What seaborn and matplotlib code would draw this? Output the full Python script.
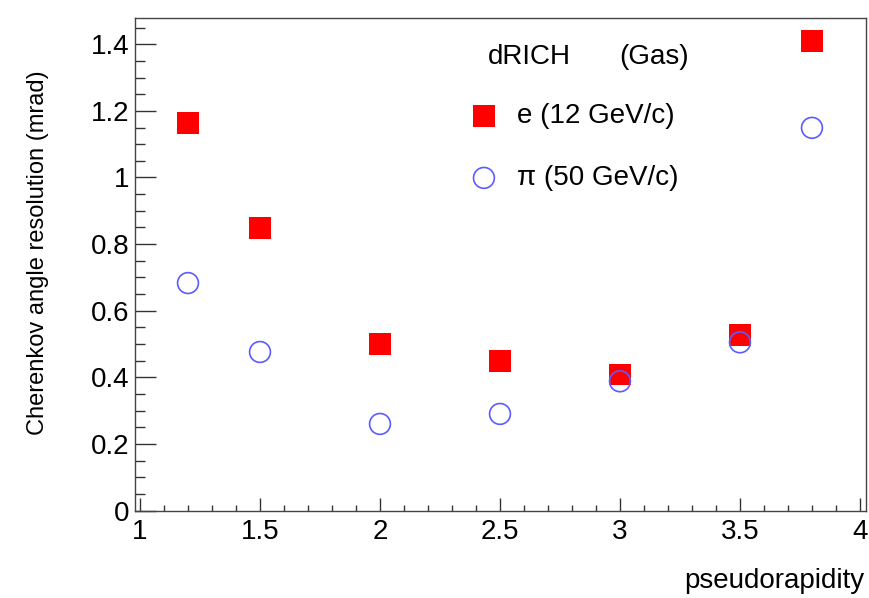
import numpy as np
import pandas as pd
import matplotlib
matplotlib.use('Agg')
import matplotlib.pyplot as plt
import seaborn as sns
from matplotlib.ticker import MultipleLocator

eta = [1.2, 1.5, 2.0, 2.5, 3.0, 3.5, 3.8]
res_e = [1.164, 0.848, 0.500, 0.449, 0.408, 0.527, 1.410]
res_pi = [0.683, 0.476, 0.260, 0.290, 0.388, 0.505, 1.149]
label_e = 'e (12 GeV/c)'
label_pi = 'π (50 GeV/c)'

df = pd.DataFrame({
    'eta': eta * 2,
    'res': res_e + res_pi,
    'particle': [label_e] * len(eta) + [label_pi] * len(eta),
})

sns.set_style('ticks')
plt.rcParams['font.family'] = ['Liberation Sans', 'DejaVu Sans']
plt.rcParams['text.color'] = 'black'
plt.rcParams['axes.labelcolor'] = 'black'
plt.rcParams['xtick.labelcolor'] = 'black'
plt.rcParams['ytick.labelcolor'] = 'black'

fig = plt.figure(figsize=(8.69, 5.98), dpi=100)
ax = fig.add_axes([0.1553, 0.1463, 0.8412, 0.8237])

sns.scatterplot(data=df[df['particle'] == label_e], x='eta', y='res', marker='s',
                s=15.5 ** 2, color='#ff0000', edgecolor='none', linewidth=0, ax=ax, label=label_e)
sns.scatterplot(data=df[df['particle'] == label_pi], x='eta', y='res', marker='o',
                s=15 ** 2, facecolor='none', edgecolor='#5c5cff', linewidth=1.2, ax=ax, label=label_pi)

ax.set_xlim(0.979, 4.025)
ax.set_ylim(0, 1.479)
ax.xaxis.set_minor_locator(MultipleLocator(0.1))
ax.yaxis.set_minor_locator(MultipleLocator(0.05))
ax.set_xticks([1, 1.5, 2, 2.5, 3, 3.5, 4])
ax.set_xticklabels(['1', '1.5', '2', '2.5', '3', '3.5', '4'])
ax.set_yticks([0, 0.2, 0.4, 0.6, 0.8, 1.0, 1.2, 1.4])
ax.set_yticklabels(['0', '0.2', '0.4', '0.6', '0.8', '1', '1.2', '1.4'])

ax.tick_params(axis='x', which='major', direction='in', length=9.5, width=1, color='#333333',
               labelsize=20, pad=6, labelcolor='black')
ax.tick_params(axis='x', which='minor', direction='in', length=4.5, width=1, color='#333333')
ax.tick_params(axis='y', which='major', direction='in', length=15, width=1, color='#333333',
               labelsize=20, pad=4, labelcolor='black')
ax.tick_params(axis='y', which='minor', direction='in', length=7.5, width=1, color='#333333')
for sp in ax.spines.values():
    sp.set_color('#444444')
    sp.set_linewidth(1)

ax.set_xlabel('pseudorapidity', fontsize=20, ha='right', va='top')
ax.xaxis.set_label_coords(0.998, -0.117)
ax.set_ylabel('Cherenkov angle resolution (mrad)', fontsize=17)
ax.yaxis.set_label_coords(-0.117, 0.523)

ax.text(0.483, 0.921, 'dRICH', transform=ax.transAxes, fontsize=20, va='center', ha='left')
ax.text(0.663, 0.921, '(Gas)', transform=ax.transAxes, fontsize=20, va='center', ha='left')

leg = ax.legend(loc='upper left', bbox_to_anchor=(0.4546, 0.8266),
                frameon=False, fontsize=20, labelspacing=1.29, handletextpad=0.59,
                borderpad=0, borderaxespad=0, handlelength=1.2)
for t in leg.get_texts():
    t.set_color('black')

fig.savefig('out.png', dpi=100)
